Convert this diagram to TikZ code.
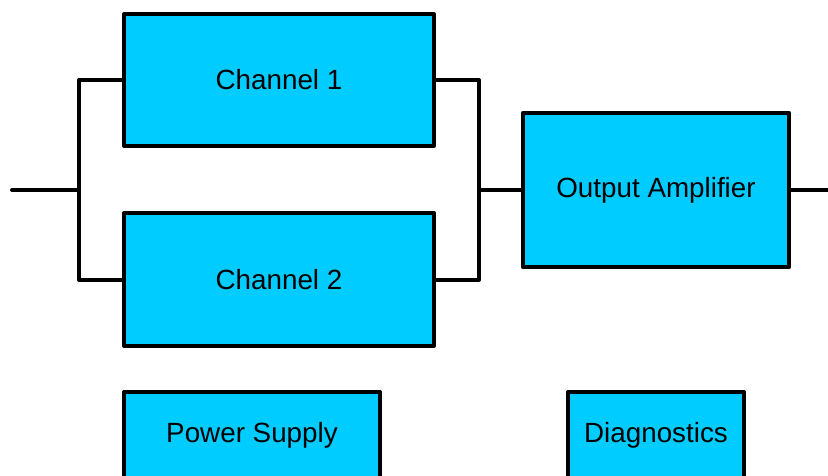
\documentclass[tikz,border=0pt]{standalone}
\usepackage{fontspec}
\setmainfont{Liberation Sans}
\definecolor{boxblue}{RGB}{0,204,255}
\begin{document}
\begin{tikzpicture}[x=1pt,y=-1pt,
  blockbox/.style={draw=black, fill=boxblue, line width=4pt, line join=round, inner sep=0pt},
  lbl/.style={font=\fontsize{27.8}{32}\selectfont, inner sep=0pt},
  wire/.style={draw=black, line width=4pt, line join=round}]
\useasboundingbox (0,0) rectangle (828,475);
\clip (0,0) rectangle (828,475);
\node[blockbox, lbl, minimum width=310pt, minimum height=131.5pt] (ch1) at (279,80) {Channel 1};
\node[blockbox, lbl, minimum width=310pt, minimum height=133pt] (ch2) at (279,279.5) {Channel 2};
\node[blockbox, lbl, minimum width=266pt, minimum height=154.5pt] (amp) at (656,190) {Output Amplifier};
\node[blockbox, minimum width=256pt, minimum height=130pt, anchor=north] (ps) at (252,390) {};
\node[lbl, anchor=base] (pstext) at (252,442) {Power Supply};
\node[blockbox, minimum width=176pt, minimum height=130pt, anchor=north] (diag) at (656,390) {};
\node[lbl, anchor=base] (diagtext) at (656,442) {Diagnostics};
\coordinate (in) at (12,190);
\coordinate (jl) at (79,190);
\coordinate (jr) at (479,190);
\coordinate (out) at (832,190);
\draw[wire, line cap=round] (in) -- (jl);
\draw[wire] (ch1.west) -| (jl) |- (ch2.west);
\draw[wire] (ch1.east) -| (jr) |- (ch2.east);
\draw[wire] (jr) -- (amp.west);
\draw[wire] (amp.east) -- (out);
\end{tikzpicture}
\end{document}
